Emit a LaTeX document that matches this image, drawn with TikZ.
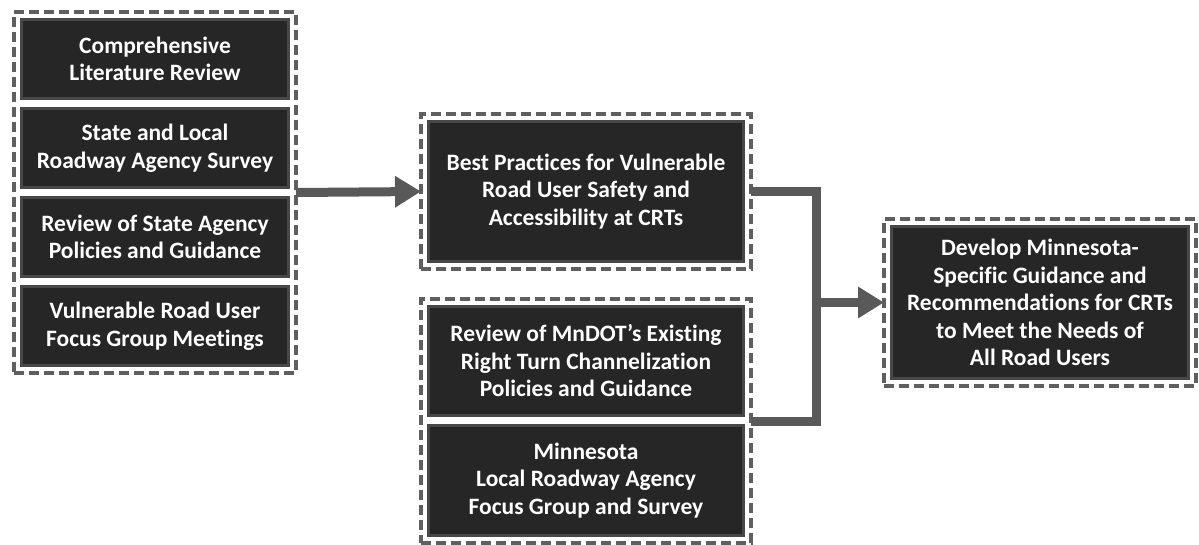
\documentclass[tikz,border=0pt]{standalone}
\usepackage{fontspec}
\setmainfont{Carlito}[Ligatures={TeX,NoCommon}]
\usepackage{tikz}
\usetikzlibrary{positioning,fit,arrows.meta}

\definecolor{boxfill}{HTML}{262626}
\definecolor{boxedge}{HTML}{474747}
\definecolor{dashgray}{HTML}{5F5F5F}
\definecolor{linegray}{HTML}{595959}

\begin{document}
\begin{tikzpicture}[x=1pt,y=-1pt,node distance=10pt,
  task/.style={rectangle,draw=boxedge,fill=boxfill,line width=3pt,text=white,
    font=\bfseries\fontsize{23.5}{27.5}\selectfont,align=center,inner sep=0pt,outer sep=0pt},
  group/.style={rectangle,draw=dashgray,line width=3.5pt,dash pattern=on 10pt off 5pt,inner sep=7.5pt,outer sep=0pt},
  link/.style={draw=linegray,line width=9pt,line join=miter},
  tip/.style={-{Triangle[length=26pt,width=30pt]}}]
\useasboundingbox (0,0) rectangle (1199,544);
% literature, survey and focus groups
\node[task,minimum width=267pt,minimum height=79pt] (lit) at (155,59) {Comprehensive\\Literature Review};
\node[task,minimum width=267pt,minimum height=79pt] (survey) [below=of lit] {State and Local\\Roadway Agency Survey};
\node[task,minimum width=267pt,minimum height=79pt] (policy) [below=of survey] {Review of State Agency\\Policies and Guidance};
\node[task,minimum width=267pt,minimum height=79pt] (vru) [below=of policy] {Vulnerable Road User\\Focus Group Meetings};
\node[group,fit=(lit)(vru)] (lgroup) {};
% best practices
\node[task,minimum width=315pt,minimum height=140pt] (best) at (586,191.5) {Best Practices for Vulnerable\\Road User Safety and\\Accessibility at CRTs};
\node[group,fit=(best)] (tgroup) {};
% mndot review
\node[task,minimum width=315pt,minimum height=109pt] (mndot) at (586,361) {Review of MnDOT’s Existing\\Right Turn Channelization\\Policies and Guidance};
\node[task,minimum width=315pt,minimum height=110pt] (local) [below=of mndot] {Minnesota\\Local Roadway Agency\\Focus Group and Survey};
\node[group,fit=(mndot)(local)] (bgroup) {};
% guidance
\node[task,minimum width=297pt,minimum height=152pt] (guide) at (1040,302.5) {Develop Minnesota-\\Specific Guidance and\\Recommendations for CRTs\\to Meet the Needs of\\All Road Users};
\node[group,fit=(guide)] (rgroup) {};
\coordinate[right=65pt of tgroup.east] (bend);
\draw[link,tip] (lgroup.east) -- (tgroup.west);
\draw[link] (tgroup.east) -- (bend) |- (bgroup.east);
\draw[link,tip] (bend |- rgroup.west) -- (rgroup.west);
\end{tikzpicture}
\end{document}
